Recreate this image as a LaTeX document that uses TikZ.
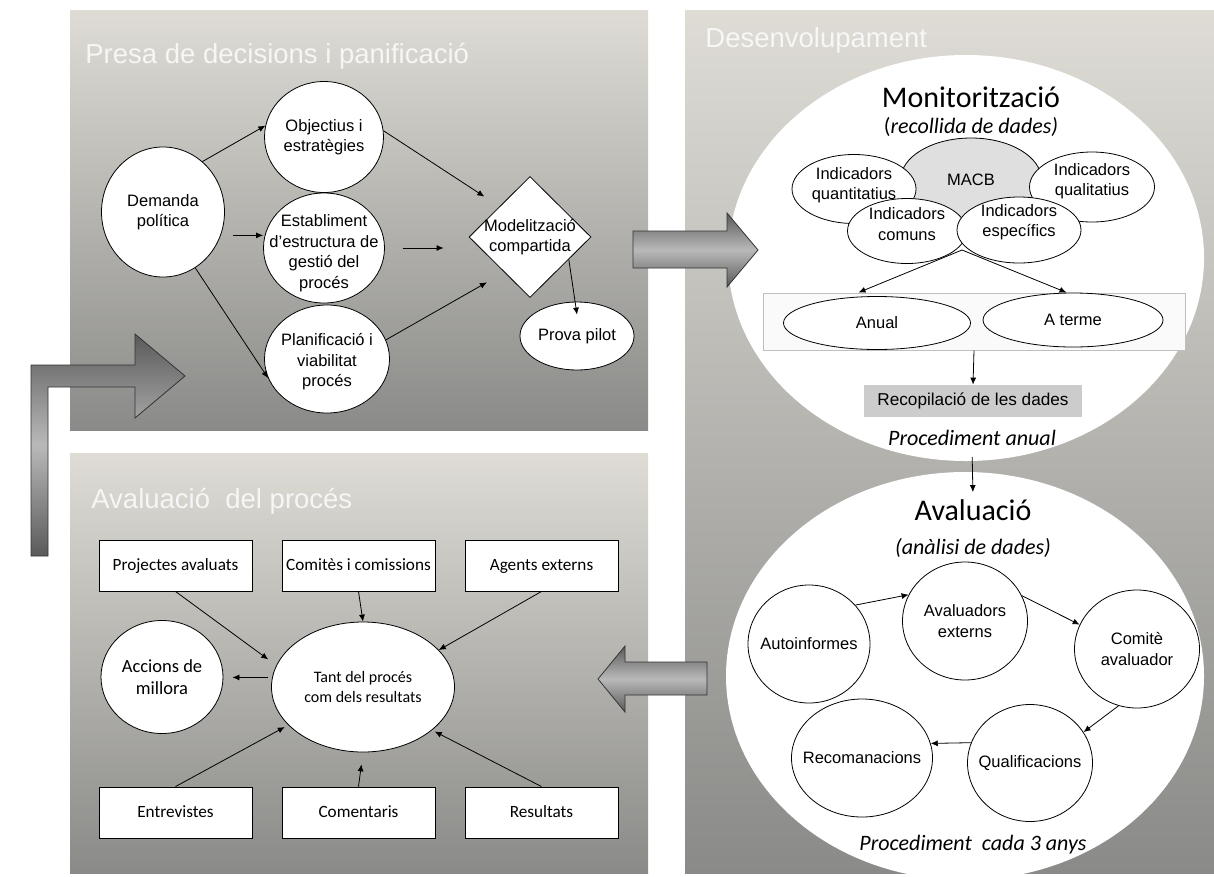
\documentclass[tikz,border=0pt]{standalone}
\usepackage{fontspec}
\setmainfont{Liberation Sans}
\newfontfamily\calfont{Carlito}
\usetikzlibrary{shapes,arrows.meta}

\definecolor{paneltop}{RGB}{222,220,213}
\definecolor{panelbot}{RGB}{138,138,136}
\definecolor{arrowdark}{RGB}{90,90,90}
\definecolor{arrowlight}{RGB}{185,185,185}

\newcommand{\arf}{\fontsize{16.5}{20.5}\selectfont}
\newcommand{\caf}{\calfont\fontsize{16}{20}\selectfont}
\newcommand{\boxf}{\calfont\fontsize{17.2}{20}\selectfont}
\newcommand{\accf}{\calfont\fontsize{18.5}{22}\selectfont}
\newcommand{\tif}{\fontsize{27.5}{30}\selectfont}
\newcommand{\bigf}{\calfont\fontsize{30}{34}\selectfont}
\newcommand{\itf}{\calfont\itshape\fontsize{22}{26}\selectfont}

\tikzset{
  panel/.style={top color=paneltop, bottom color=panelbot},
  ptitle/.style={anchor=west, inner sep=0pt, text=white, text opacity=0.8, font=\tif},
  bub/.style={ellipse, draw, fill=white, inner sep=0pt},
  txt/.style={align=center, inner sep=0pt, font=\arf},
  cbox/.style={rectangle, draw, fill=white, line width=0.9pt, minimum width=153pt, minimum height=51pt, text height=12pt, text depth=3pt, font=\boxf},
  fat/.style={draw=black!80, line width=0.8pt, top color=arrowdark, bottom color=arrowdark, middle color=arrowlight},
  every label/.style={txt},
}

\begin{document}
\begin{tikzpicture}[x=1pt, y=-1pt, line width=0.8pt, >={Latex[length=7pt,width=6pt]}]
\useasboundingbox (0,0) rectangle (1214,876);

% panels
\shade [panel] (70,10) rectangle (648,430);
\shade [panel] (70,453) rectangle (648,873);
\shade [panel] (685,10) rectangle (1214,873);
\begin{scope}
\clip (685,10) rectangle (1214,873);
\fill [white] (966,258) ellipse [x radius=238pt, y radius=203pt];
\fill [white] (965,676) ellipse [x radius=239pt, y radius=204pt];
\end{scope}

\node (t1) at (85,56) [ptitle] {Presa de decisions i panificació};
\node (t2) at (705,40) [ptitle] {Desenvolupament};
\node (t3) at (91,501) [ptitle] {Avaluació~ del procés};

% presa de decisions
\node (dem) at (163,212) [bub, minimum width=123pt, minimum height=130pt, label={center:Demanda\\política}] {};
\node (obj) at (324,137) [bub, minimum width=119pt, minimum height=111pt, label={center:Objectius i\\estratègies}] {};
\node (est) at (324,248) [bub, minimum width=121pt, minimum height=110pt, label={[yshift=-5pt]center:Establiment\\d'estructura de\\gestió del\\procés}] {};
\node (pla) at (327,359) [bub, minimum width=125pt, minimum height=108pt, label={[yshift=-3pt]center:Planificació i\\viabilitat\\procés}] {};
\node (mod) at (530,237) [diamond, draw, fill=white, inner sep=0pt, minimum width=122pt, minimum height=121pt, label={center:Modelització\\compartida}] {};
\node (pro) at (577,336) [bub, minimum width=114pt, minimum height=68pt, label={center:Prova pilot}] {};
\draw [->] (dem.52) -- (obj.169);
\draw [->] ([xshift=12pt]dem.-22) -- (dem.-22 -| est.west);
\draw [->] (dem.-60) -- (pla.198);
\draw [->, shorten >=18pt] (obj.6) -- (mod.135);
\draw [->, shorten <=18pt, shorten >=25pt] (est.east) -- (est.east -| mod.west);
\draw [->, shorten >=20pt] (pla.18) -- (mod.234);
\draw [->] (mod.-30) -- ([yshift=-13pt]pro.north);

% monitoritzacio
\node (mon) at (971,97) [font=\bigf] {Monitorització};
\node (rcl) at (971,127) [font=\itf] {{\upshape(}recollida de dades)};
\node (macb) at (971,180) [bub, fill=gray!25, minimum width=141pt, minimum height=84pt, label={center:MACB}] {};
\node (qnt) at (854,189) [bub, minimum width=124pt, minimum height=69pt, label={[yshift=4pt]center:Indicadors\\quantitatius}] {};
\node (qlt) at (1092,187) [bub, minimum width=125pt, minimum height=70pt, label={[yshift=6pt]center:Indicadors\\qualitatius}] {};
\node (cmn) at (907,231) [bub, minimum width=119pt, minimum height=65pt, label={[yshift=7pt]center:Indicadors\\comuns}] {};
\node (esp) at (1019,230) [bub, minimum width=124pt, minimum height=66pt, label={[yshift=8pt]center:Indicadors\\específics}] {};
\coordinate (split) at (962,250);
\node (frm) at (974,321.5) [rectangle, draw=gray!50, fill=gray!4, line width=1pt, minimum width=422pt, minimum height=57pt] {};
\node (anu) at (877,323) [bub, minimum width=187pt, minimum height=53pt, label={center:Anual}] {};
\node (atr) at (1073,320) [bub, minimum width=180pt, minimum height=54pt, label={center:A terme}] {};
\draw [->] (split) -- ([xshift=96pt]frm.north west);
\draw [->] (split) -- ([xshift=-119pt]frm.north east);
\node (rec) at (973,401) [rectangle, fill=gray!40, minimum width=218pt, minimum height=32pt, font=\fontsize{17.2}{20}\selectfont] {Recopilació de les dades};
\draw [->] (frm.south) -- (rec.north);
\node (pan) at (972,438) [font=\itf, inner sep=1pt] {Procediment anual};

% avaluacio
\node (avt) at (973,510) [font=\bigf, inner sep=1pt] {Avaluació};
\draw [->, shorten <=10pt, shorten >=6pt] (pan.south) -- (avt.north);
\node (ana) at (973,548) [font=\itf] {(anàlisi de dades)};
\node (aut) at (809,644) [bub, minimum width=122pt, minimum height=118pt, label={center:Autoinformes}] {};
\node (avx) at (965,621) [bub, minimum width=125pt, minimum height=118pt, label={center:Avaluadors\\externs}] {};
\node (cmt) at (1137,649) [bub, minimum width=125pt, minimum height=118pt, label={center:Comitè\\avaluador}] {};
\node (rcm) at (862,758) [bub, minimum width=141pt, minimum height=118pt, label={center:Recomanacions}] {};
\node (qua) at (1030,763) [bub, minimum width=125pt, minimum height=117pt, label={center:Qualificacions}] {};
\draw [->] (aut.40) -- (avx.155);
\draw [->] (avx.24) -- (cmt.157);
\draw [->] (cmt.252) -- (qua.30);
\draw [->] (qua.161) -- (rcm.12);
\node (p3) at (973,845) [font=\itf] {Procediment~ cada 3 anys};

% avaluacio del proces
\node (prj) at (175.5,565.5) [cbox] {Projectes avaluats};
\node (cms) at (358.5,565.5) [cbox] {Comitès i comissions};
\node (agt) at (541.5,565.5) [cbox] {Agents externs};
\node (ent) at (175.5,812.5) [cbox] {Entrevistes};
\node (cmr) at (358.5,812.5) [cbox] {Comentaris};
\node (res) at (541.5,812.5) [cbox] {Resultats};
\node (tan) at (363,687) [bub, minimum width=183pt, minimum height=130pt, label={[font=\caf]center:Tant del procés\\com dels resultats}] {};
\node (acc) at (162,677) [bub, minimum width=122pt, minimum height=113pt, label={[font=\accf]center:Accions de\\millora}] {};
\draw [->, shorten >=10pt] (prj.south) -- (tan.166);
\draw [->] (cms.south) -- (tan.north);
\draw [->] (agt.south) -- (tan.26);
\draw [->, shorten <=4pt, shorten >=9pt] (tan.174) -- (tan.174 -| acc.east);
\draw [->, shorten >=4pt] (ent.north) -- (tan.207);
\draw [->, shorten >=12pt] (cmr.north) -- (tan.south);
\draw [->, shorten >=3pt] (res.north) -- (tan.-32);

% big arrows between panels
\draw [fat] (633,231) -- (727,231) -- (727,213) -- (758,250) -- (727,287) -- (727,268) -- (633,268) -- cycle;
\draw [fat] (707,662) -- (625,662) -- (625,646) -- (598,679) -- (625,712) -- (625,695) -- (707,695) -- cycle;
\draw [fat] (31,556) -- (31,365) -- (135,365) -- (135,334) -- (185,376) -- (135,418) -- (135,387) -- (48,387) -- (48,556) -- cycle;
\end{tikzpicture}
\end{document}
